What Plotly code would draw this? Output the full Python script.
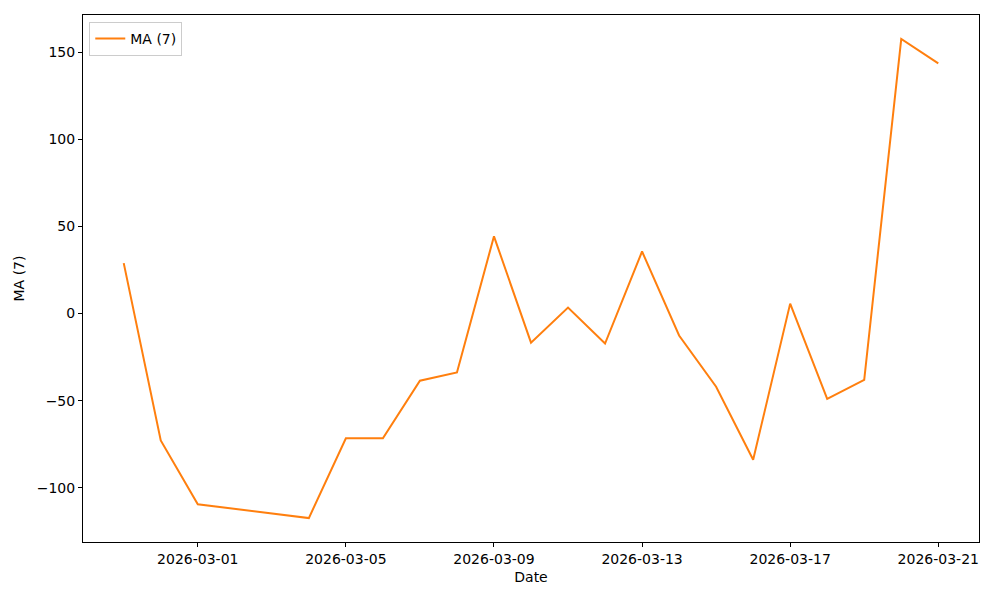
"""Moving average line chart (MA 7) over dates."""

import pandas as pd
import plotly.graph_objects as go

dates = [
    "2026-02-27", "2026-02-28", "2026-03-01", "2026-03-04", "2026-03-05",
    "2026-03-06", "2026-03-07", "2026-03-08", "2026-03-09", "2026-03-10",
    "2026-03-11", "2026-03-12", "2026-03-13", "2026-03-14", "2026-03-15",
    "2026-03-16", "2026-03-17", "2026-03-18", "2026-03-19", "2026-03-20",
    "2026-03-21",
]
ma7 = [
    28.9, -72.8, -109.4, -117.3, -71.6,
    -71.6, -38.5, -33.8, 44.3, -16.7,
    3.4, -17.2, 35.6, -12.6, -42.0,
    -83.9, 5.7, -48.9, -38.0, 157.5,
    143.5,
]

x = pd.to_datetime(dates)
pad_x = (x.max() - x.min()) * 0.05
pad_y = (max(ma7) - min(ma7)) * 0.05

fig = go.Figure()
fig.add_trace(
    go.Scatter(
        x=x,
        y=ma7,
        mode="lines",
        name="MA (7)",
        line=dict(color="#ff7f0e", width=2),
    )
)

axis_style = dict(
    showgrid=False,
    zeroline=False,
    showline=True,
    linecolor="black",
    linewidth=1,
    mirror=True,
    ticks="outside",
    ticklen=4,
    tickcolor="black",
    tickfont=dict(size=14, color="black"),
)

# the page body adds an 8px offset, so margins are shifted to compensate
fig.update_layout(
    width=1000,
    height=600,
    margin=dict(l=75, r=29, t=7, b=66),
    paper_bgcolor="white",
    plot_bgcolor="white",
    font=dict(family="DejaVu Sans", size=14, color="black"),
    showlegend=True,
    legend=dict(
        x=0.007,
        y=0.987,
        xanchor="left",
        yanchor="top",
        bordercolor="#cccccc",
        borderwidth=1,
        bgcolor="rgba(255,255,255,0.8)",
        font=dict(size=14),
    ),
    xaxis=dict(
        axis_style,
        title=dict(text="Date", standoff=6, font=dict(size=14)),
        range=[x.min() - pad_x, x.max() + pad_x],
        tick0="2026-03-01",
        dtick=4 * 24 * 3600 * 1000,
        tickformat="%Y-%m-%d",
    ),
    yaxis=dict(
        axis_style,
        title=dict(text="MA (7)", standoff=8, font=dict(size=14)),
        range=[min(ma7) - pad_y, max(ma7) + pad_y],
        tickvals=[-100, -50, 0, 50, 100, 150],
    ),
)

fig.write_html("out.html")
